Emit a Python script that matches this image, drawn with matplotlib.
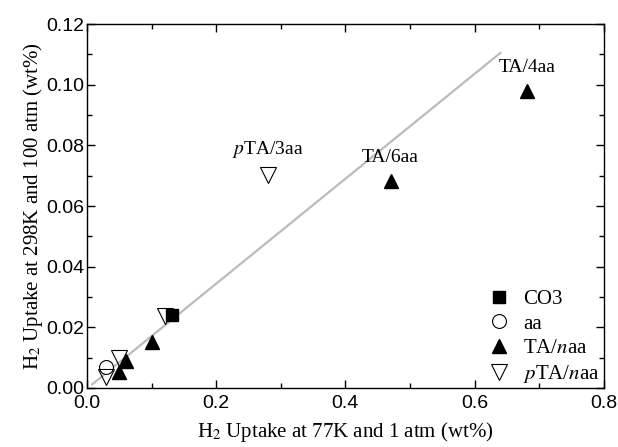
import matplotlib
matplotlib.use("Agg")
import matplotlib.pyplot as plt
from matplotlib.ticker import MultipleLocator, FormatStrFormatter

# H2 uptake: 77K/1 atm (x) vs 298K/100 atm (y), wt%
co3_x = [0.131]
co3_y = [0.024]

aa_x = [0.029]
aa_y = [0.0068]

ta_x = [0.050, 0.061, 0.100, 0.470, 0.681]
ta_y = [0.0054, 0.0089, 0.0152, 0.0682, 0.0978]

pta_x = [0.029, 0.050, 0.121, 0.280]
pta_y = [0.0035, 0.0098, 0.0237, 0.0701]

# linear trend line end points
fit_x = [0.008, 0.640]
fit_y = [0.0012, 0.1105]

labels = ["TA/6aa", "TA/4aa", "$p$TA/3aa"]
label_x = [0.470, 0.681, 0.280]
label_y = [0.0682, 0.0978, 0.0701]

serif = "Liberation Serif"
sans = "Liberation Sans"
plt.rcParams["mathtext.fontset"] = "stix"

fig = plt.figure(figsize=(6.18, 4.47), dpi=100)
ax = fig.add_axes([0.1408, 0.132, 0.836, 0.814])

ax.plot(fit_x, fit_y, color="#bbbbbb", lw=1.6, zorder=1)

ms = 10.5
ax.plot(co3_x, co3_y, "s", color="black", ms=ms - 2, ls="none", label="CO3", zorder=2)
ax.plot(aa_x, aa_y, "o", mfc="white", mec="black", mew=0.8, ms=ms - 0.5, ls="none", label="aa", zorder=3)
ax.plot(ta_x, ta_y, "^", color="black", ms=ms, ls="none", label="TA/$n$aa", zorder=3)
ax.plot(pta_x, pta_y, "v", mfc="none", mec="black", mew=0.8, ms=ms + 1, ls="none",
        label="$p$TA/$n$aa", zorder=4)

for txt, lx, ly in zip(labels, label_x, label_y):
    ax.annotate(txt, (lx, ly), xytext=(0, 11), textcoords="offset points",
                ha="center", va="bottom", fontsize=14, family=serif)

ax.set_xlim(0, 0.8)
ax.set_ylim(0, 0.12)
ax.xaxis.set_major_locator(MultipleLocator(0.2))
ax.xaxis.set_minor_locator(MultipleLocator(0.1))
ax.yaxis.set_major_locator(MultipleLocator(0.02))
ax.yaxis.set_minor_locator(MultipleLocator(0.01))
ax.xaxis.set_major_formatter(FormatStrFormatter("%.1f"))
ax.yaxis.set_major_formatter(FormatStrFormatter("%.2f"))
ax.tick_params(which="both", direction="in", top=True, right=True, width=1.0)
ax.tick_params(which="major", length=6, labelsize=14)
ax.tick_params(axis="y", pad=2)
ax.tick_params(axis="x", pad=5)
ax.tick_params(which="minor", length=3.5)
for lab in ax.get_xticklabels() + ax.get_yticklabels():
    lab.set_family(sans)
for sp in ax.spines.values():
    sp.set_linewidth(1.0)

ax.set_xlabel("H$_2$ Uptake at 77K and 1 atm (wt%)", fontsize=15, family=serif, labelpad=6)
ax.set_ylabel("H$_2$ Uptake at 298K and 100 atm (wt%)", fontsize=15, family=serif, labelpad=1)

leg = ax.legend(loc="lower right", bbox_to_anchor=(1.0, -0.004), frameon=False,
                prop={"family": serif, "size": 15}, borderpad=0.2,
                handletextpad=0.4, labelspacing=0.24, borderaxespad=0.0, handlelength=1.5)

fig.savefig("out.png", dpi=100)
